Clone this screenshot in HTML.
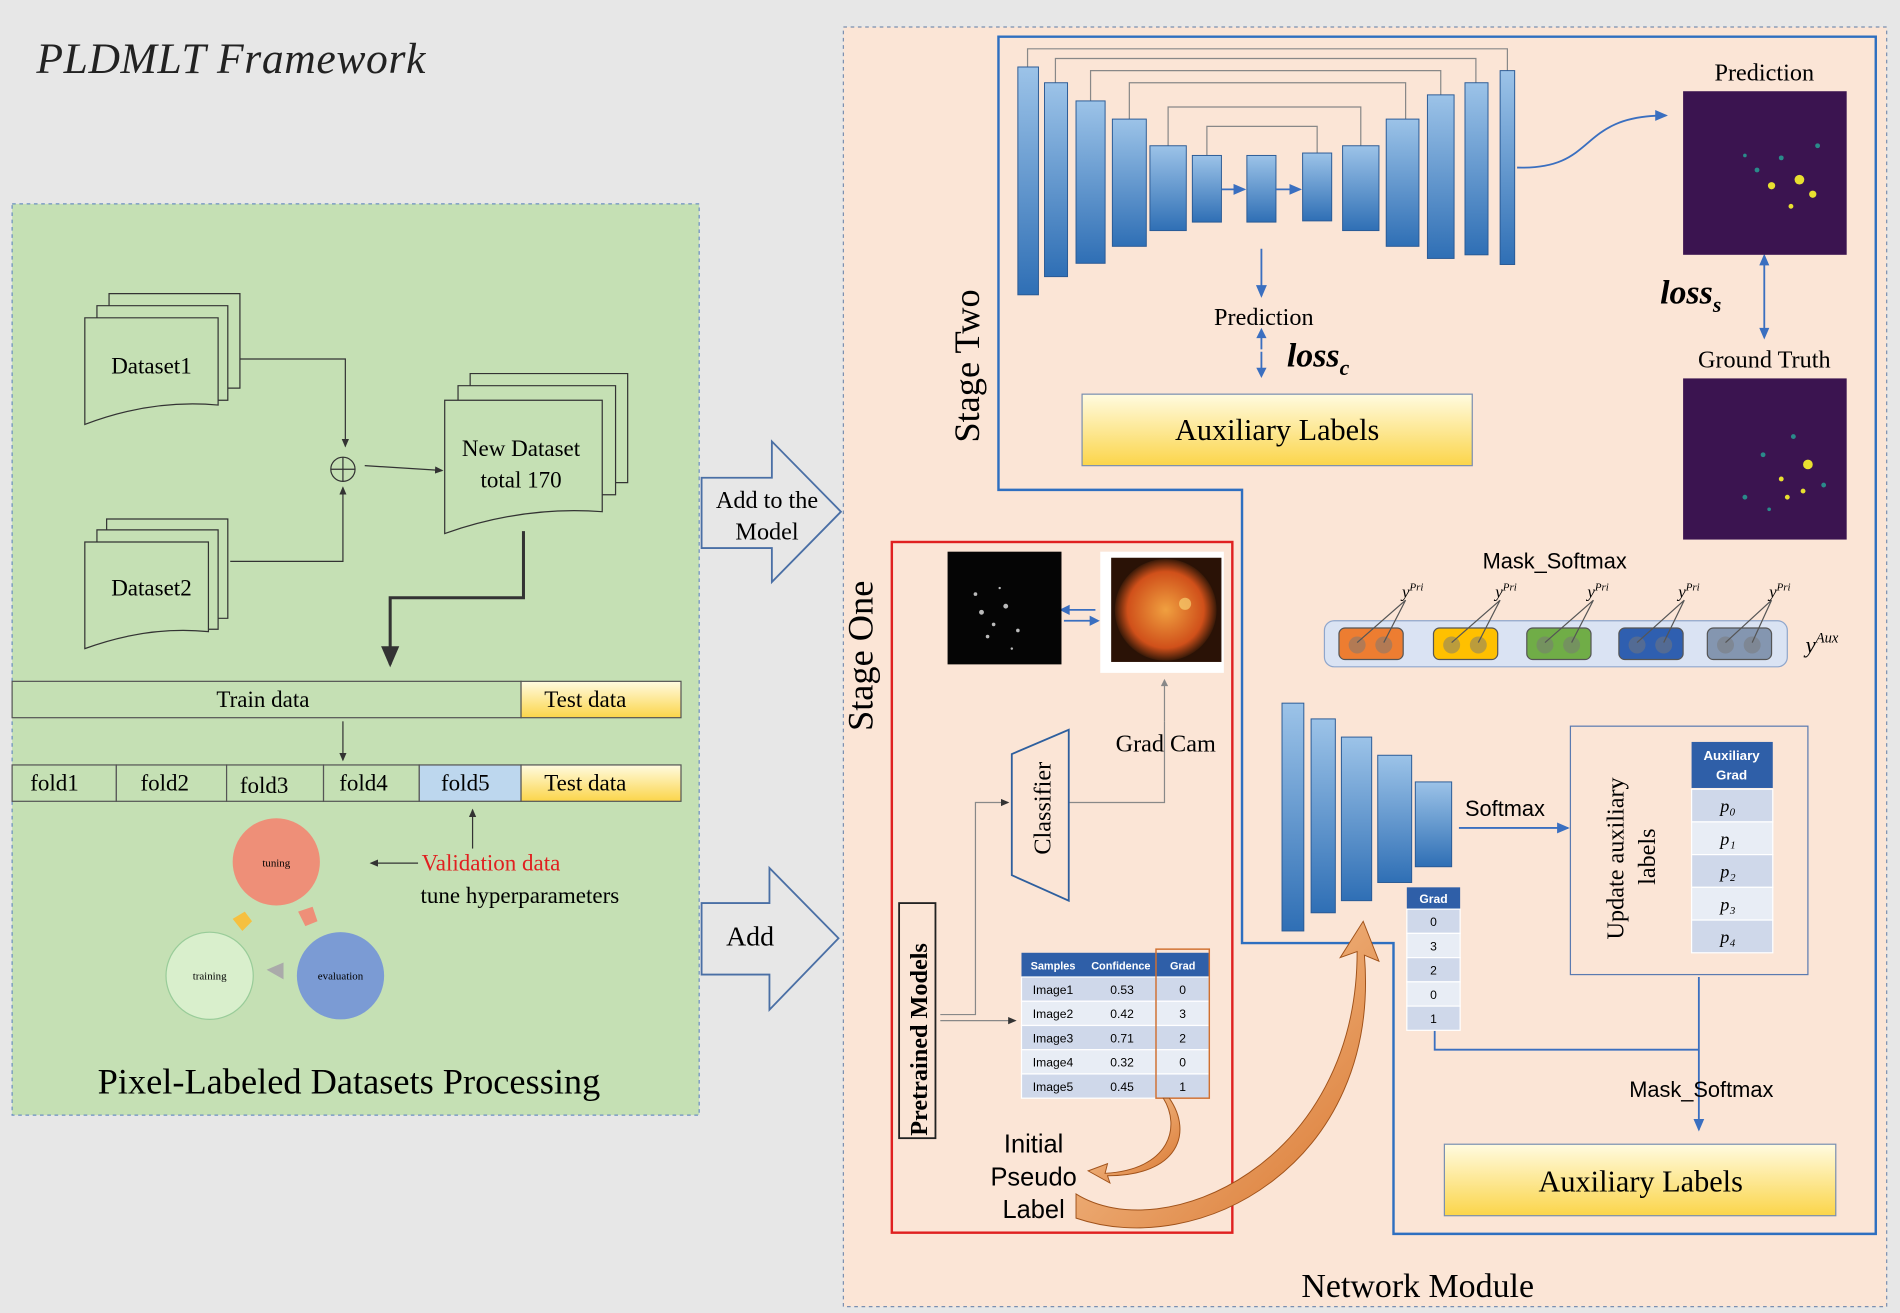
<!DOCTYPE html>
<html><head><meta charset="utf-8"><style>
html,body{margin:0;padding:0;background:#e7e7e7;}
svg{display:block}
.s{font-family:"Liberation Serif",serif}
.a{font-family:"Liberation Sans",sans-serif}
</style></head><body>
<svg width="1900" height="1313" viewBox="0 0 1568 1083" xmlns="http://www.w3.org/2000/svg">
<defs>
<linearGradient id="bl" x1="0" y1="0" x2="0" y2="1"><stop offset="0" stop-color="#9cc3e8"/><stop offset="1" stop-color="#2f6fb5"/></linearGradient>
<linearGradient id="yl" x1="0" y1="0" x2="0" y2="1"><stop offset="0" stop-color="#fffbe0"/><stop offset="1" stop-color="#fbd54a"/></linearGradient>
<radialGradient id="fund"><stop offset="0" stop-color="#f0a040"/><stop offset=".75" stop-color="#d0501a"/><stop offset="1" stop-color="#3a1a08"/></radialGradient>
<linearGradient id="or" x1="0" y1="0" x2="1" y2="1"><stop offset="0" stop-color="#fbd3a8"/><stop offset="1" stop-color="#d8742c"/></linearGradient>
<marker id="ar" markerWidth="8" markerHeight="8" refX="6" refY="3" orient="auto"><path d="M0,0 L7,3 L0,6z" fill="#333"/></marker>
<marker id="ab" markerWidth="8" markerHeight="8" refX="6" refY="3" orient="auto"><path d="M0,0 L7,3 L0,6z" fill="#3a6fc0"/></marker>
</defs>
<rect x="0" y="0" width="1568" height="1083" fill="#e7e7e7"/>
<text x="30" y="60" class="s" font-size="36" font-style="italic" fill="#222" letter-spacing="0.5">PLDMLT Framework</text>

<rect x="10" y="168" width="567" height="752" fill="#c5e0b4" stroke="#6a8fc0" stroke-dasharray="3,3"/>
<g fill="#c5e0b4" stroke="#333" stroke-width="1">
<path d="M90,242h108v78h-108z"/><path d="M80,252h108v78h-108z"/>
<path d="M70,262h110v72q-55,-5 -110,16z"/>
<path d="M88,428h100v82h-100z"/><path d="M80,437h100v82h-100z"/>
<path d="M70,447h102v74q-50,-5 -102,14z"/>
<path d="M388,308h130v90h-130z"/><path d="M378,318h130v90h-130z"/>
<path d="M367,330h130v92q-65,-5 -130,18z"/>
</g>
<text x="125" y="308" class="s" font-size="19" text-anchor="middle">Dataset1</text>
<text x="125" y="491" class="s" font-size="19" text-anchor="middle">Dataset2</text>
<text x="430" y="376" class="s" font-size="19" text-anchor="middle">New Dataset</text>
<text x="430" y="402" class="s" font-size="19" text-anchor="middle">total 170</text>
<g stroke="#333" fill="none">
<path d="M198,296H285V368" marker-end="url(#ar)"/>
<path d="M190,463H283V402" marker-end="url(#ar)"/>
<path d="M301,384L365,388" marker-end="url(#ar)"/>
<circle cx="283" cy="387" r="10"/><path d="M273,387h20M283,377v20"/>
<path d="M432,438V493H322V548" stroke-width="2.5" marker-end="url(#ar)"/>
<path d="M283,595V627" marker-end="url(#ar)"/>
<path d="M390,700V668" marker-end="url(#ar)"/>
<path d="M345,712H306" marker-end="url(#ar)"/>
</g>
<rect x="10" y="562" width="420" height="30" fill="#c5e0b4" stroke="#555"/>
<rect x="430" y="562" width="132" height="30" fill="url(#yl)" stroke="#555"/>
<text x="217" y="583" class="s" font-size="19" text-anchor="middle">Train data</text>
<text x="483" y="583" class="s" font-size="19" text-anchor="middle">Test data</text>
<g stroke="#555" fill="#c5e0b4">
<rect x="10" y="631" width="86" height="30"/><rect x="96" y="631" width="91" height="30"/>
<rect x="187" y="631" width="80" height="30"/><rect x="267" y="631" width="79" height="30"/>
<rect x="346" y="631" width="84" height="30" fill="#bdd7ee"/><rect x="430" y="631" width="132" height="30" fill="url(#yl)"/>
</g>
<g class="s" font-size="19" text-anchor="middle">
<text x="45" y="652">fold1</text><text x="136" y="652">fold2</text><text x="218" y="654">fold3</text><text x="300" y="652">fold4</text><text x="384" y="652">fold5</text><text x="483" y="652">Test data</text>
</g>
<text x="348" y="718" class="s" font-size="19" fill="#e02020">Validation data</text>
<text x="347" y="745" class="s" font-size="19">tune hyperparameters</text>
<circle cx="228" cy="711" r="36" fill="#ee8f78"/>
<circle cx="173" cy="805" r="36" fill="#d9efcc" stroke="#9c9" />
<circle cx="281" cy="805" r="36" fill="#7b9bd4"/>
<text x="228" y="715" class="s" font-size="9" text-anchor="middle">tuning</text>
<text x="173" y="808" class="s" font-size="9" text-anchor="middle">training</text>
<text x="281" y="808" class="s" font-size="9" text-anchor="middle">evaluation</text>
<path d="M192,758l10,-6l6,8l-8,8z" fill="#f6c040"/><path d="M246,752l12,-4l4,12l-10,4z" fill="#ee8f78"/><path d="M220,800l14,-6v14z" fill="#aaa"/>
<text x="288" y="902" class="s" font-size="30" text-anchor="middle">Pixel-Labeled Datasets Processing</text>

<path d="M579,394H637V364L694,422L637,480V452H579Z" fill="#e7e7e7" stroke="#4a6fa5" stroke-width="1.5"/>
<text x="633" y="419" class="s" font-size="20" text-anchor="middle">Add to the</text>
<text x="633" y="445" class="s" font-size="20" text-anchor="middle">Model</text>
<path d="M579,745H635V716L692,774L635,833V804H579Z" fill="#e7e7e7" stroke="#4a6fa5" stroke-width="1.5"/>
<text x="619" y="780" class="s" font-size="23" text-anchor="middle">Add</text>

<rect x="696" y="22" width="861" height="1056" fill="#fbe5d6" stroke="#7a8fb0" stroke-dasharray="3,3"/>
<path d="M824,30H1548V1018H1150V778H1025V404H824Z" fill="none" stroke="#2e6fc0" stroke-width="2"/>
<rect x="736" y="447" width="281" height="570" fill="none" stroke="#e02020" stroke-width="2"/>
<text transform="translate(808,365) rotate(-90)" class="s" font-size="30">Stage Two</text>
<text transform="translate(720,603) rotate(-90)" class="s" font-size="30">Stage One</text>
<text x="1170" y="1070" class="s" font-size="28" text-anchor="middle">Network Module</text>

<g stroke="#888" fill="none" stroke-width="1">
<path d="M848,55V40H1244V58"/><path d="M871,68V48H1218V68"/><path d="M900,83V58H1189V78"/><path d="M932,98V68H1160V98"/><path d="M964,120V88H1123V120"/><path d="M996,128V104H1087V126"/>
</g>
<g fill="url(#bl)" stroke="#2a5a95" stroke-width=".8">
<rect x="840" y="55" width="17" height="188"/><rect x="862" y="68" width="19" height="160"/><rect x="888" y="83" width="24" height="134"/>
<rect x="918" y="98" width="28" height="105"/><rect x="949" y="120" width="30" height="70"/><rect x="984" y="128" width="24" height="55"/>
<rect x="1029" y="128" width="24" height="55"/><rect x="1075" y="126" width="24" height="56"/><rect x="1108" y="120" width="30" height="70"/>
<rect x="1144" y="98" width="27" height="105"/><rect x="1178" y="78" width="22" height="135"/><rect x="1209" y="68" width="19" height="142"/>
<rect x="1238" y="58" width="12" height="160"/>
<rect x="1058" y="580" width="18" height="188"/><rect x="1082" y="593" width="20" height="160"/><rect x="1107" y="608" width="25" height="135"/>
<rect x="1137" y="623" width="28" height="105"/><rect x="1168" y="645" width="30" height="70"/>
</g>
<g stroke="#3a6fc0" fill="none" stroke-width="1.5">
<path d="M1008,156H1027" marker-end="url(#ab)"/><path d="M1053,156H1073" marker-end="url(#ab)"/>
<path d="M1252,138C1320,140 1300,95 1375,95" marker-end="url(#ab)"/>
<path d="M1041,205V244" marker-end="url(#ab)"/>
<path d="M1041,288V276M1041,290V308"/><path d="M1041,272l-3,6h6z" fill="#3a6fc0"/><path d="M1041,310l-3,-6h6z" fill="#3a6fc0"/>
<path d="M1456,214V276"/><path d="M1456,211l-3,7h6z" fill="#3a6fc0"/><path d="M1456,278l-3,-7h6z" fill="#3a6fc0"/>
<path d="M1204,683H1294" marker-end="url(#ab)"/>
<path d="M1402,806V932" marker-end="url(#ab)"/>
<path d="M1184,850V866H1402"/>
<path d="M876,503h28M906,512h-28" /><path d="M876,503l6,-3v6z" fill="#3a6fc0"/><path d="M906,512l-6,-3v6z" fill="#3a6fc0"/>
</g>
<text x="1043" y="268" class="s" font-size="20" text-anchor="middle">Prediction</text>
<text x="1062" y="302" class="s" font-size="28" font-weight="bold" font-style="italic">loss<tspan font-size="18" dy="7">c</tspan></text>
<text x="1370" y="250" class="s" font-size="28" font-weight="bold" font-style="italic">loss<tspan font-size="18" dy="7">s</tspan></text>
<rect x="893" y="325" width="322" height="59" fill="url(#yl)" stroke="#7a8fb0"/>
<text x="1054" y="363" class="s" font-size="25" text-anchor="middle">Auxiliary Labels</text>
<rect x="1192" y="944" width="323" height="59" fill="url(#yl)" stroke="#7a8fb0"/>
<text x="1354" y="983" class="s" font-size="25" text-anchor="middle">Auxiliary Labels</text>
<text x="1456" y="66" class="s" font-size="20" text-anchor="middle">Prediction</text>
<text x="1456" y="303" class="s" font-size="20" text-anchor="middle">Ground Truth</text>
<rect x="1389" y="75" width="135" height="135" fill="#3b1450"/>
<rect x="1389" y="312" width="135" height="133" fill="#3b1450"/>
<g fill="#e8e030"><circle cx="1485" cy="148" r="4"/><circle cx="1462" cy="153" r="3"/><circle cx="1496" cy="160" r="3"/><circle cx="1478" cy="170" r="2"/><circle cx="1492" cy="383" r="4"/><circle cx="1470" cy="395" r="2"/><circle cx="1488" cy="405" r="2"/><circle cx="1475" cy="410" r="2"/></g>
<g fill="#2a8a8a"><circle cx="1450" cy="140" r="2"/><circle cx="1470" cy="130" r="2"/><circle cx="1500" cy="120" r="2"/><circle cx="1440" cy="128" r="1.5"/><circle cx="1455" cy="375" r="2"/><circle cx="1480" cy="360" r="2"/><circle cx="1505" cy="400" r="2"/><circle cx="1440" cy="410" r="2"/><circle cx="1460" cy="420" r="1.5"/></g>

<text x="1283" y="469" class="a" font-size="18" text-anchor="middle">Mask_Softmax</text>
<rect x="1093" y="512" width="382" height="38" rx="8" fill="#dae3f3" stroke="#8fa6cc"/>
<g stroke="#555">
<rect x="1105" y="518" width="53" height="26" rx="5" fill="#ed7d31"/><rect x="1183" y="518" width="53" height="26" rx="5" fill="#ffc000"/>
<rect x="1260" y="518" width="53" height="26" rx="5" fill="#70ad47"/><rect x="1336" y="518" width="53" height="26" rx="5" fill="#2f5fb0"/>
<rect x="1409" y="518" width="53" height="26" rx="5" fill="#8496b0"/>
</g>
<g fill-opacity=".5" fill="#777"><circle cx="1120" cy="532" r="7"/><circle cx="1142" cy="532" r="7"/><circle cx="1198" cy="532" r="7"/><circle cx="1220" cy="532" r="7"/><circle cx="1275" cy="532" r="7"/><circle cx="1297" cy="532" r="7"/><circle cx="1351" cy="532" r="7"/><circle cx="1373" cy="532" r="7"/><circle cx="1424" cy="532" r="7"/><circle cx="1446" cy="532" r="7"/></g>
<g stroke="#555"><path d="M1120,530L1160,495M1142,530L1160,495M1198,530L1238,495M1220,530L1238,495M1275,530L1315,495M1297,530L1315,495M1351,530L1390,495M1373,530L1390,495M1424,530L1462,495M1446,530L1462,495"/></g>
<g class="s" font-size="14" font-style="italic"><text x="1157" y="493">y<tspan font-size="9" dy="-6">Pri</tspan></text><text x="1234" y="493">y<tspan font-size="9" dy="-6">Pri</tspan></text><text x="1310" y="493">y<tspan font-size="9" dy="-6">Pri</tspan></text><text x="1385" y="493">y<tspan font-size="9" dy="-6">Pri</tspan></text><text x="1460" y="493">y<tspan font-size="9" dy="-6">Pri</tspan></text>
<text x="1490" y="538" font-size="19">y<tspan font-size="12" dy="-8">Aux</tspan></text></g>

<text x="1242" y="673" class="a" font-size="18" text-anchor="middle">Softmax</text>
<rect x="1296" y="599" width="196" height="205" fill="none" stroke="#5a7ab0"/>
<text transform="translate(1340,775) rotate(-90)" class="s" font-size="20">Update auxiliary</text>
<text transform="translate(1366,730) rotate(-90)" class="s" font-size="20">labels</text>
<rect x="1396" y="612" width="67" height="38" fill="#2f5fa8"/>
<text x="1429" y="627" class="a" font-size="11" fill="#fff" font-weight="bold" text-anchor="middle">Auxiliary</text>
<text x="1429" y="643" class="a" font-size="11" fill="#fff" font-weight="bold" text-anchor="middle">Grad</text>
<g stroke="#fff"><rect x="1396" y="651" width="67" height="27" fill="#cfd8ea"/><rect x="1396" y="678" width="67" height="27" fill="#e8edf5"/><rect x="1396" y="705" width="67" height="27" fill="#cfd8ea"/><rect x="1396" y="732" width="67" height="27" fill="#e8edf5"/><rect x="1396" y="759" width="67" height="27" fill="#cfd8ea"/></g>
<g class="s" font-size="15" font-style="italic" text-anchor="middle"><text x="1426" y="670">p₀</text><text x="1426" y="697">p₁</text><text x="1426" y="724">p₂</text><text x="1426" y="751">p₃</text><text x="1426" y="778">p₄</text></g>
<text x="1404" y="905" class="a" font-size="18" text-anchor="middle">Mask_Softmax</text>

<rect x="1161" y="732" width="44" height="18" fill="#2f5fa8"/>
<text x="1183" y="745" class="a" font-size="10" fill="#fff" font-weight="bold" text-anchor="middle">Grad</text>
<g stroke="#fff"><rect x="1161" y="750" width="44" height="20" fill="#cfd8ea"/><rect x="1161" y="770" width="44" height="20" fill="#e8edf5"/><rect x="1161" y="790" width="44" height="20" fill="#cfd8ea"/><rect x="1161" y="810" width="44" height="20" fill="#e8edf5"/><rect x="1161" y="830" width="44" height="20" fill="#cfd8ea"/></g>
<g class="a" font-size="10" text-anchor="middle"><text x="1183" y="764">0</text><text x="1183" y="784">3</text><text x="1183" y="804">2</text><text x="1183" y="824">0</text><text x="1183" y="844">1</text></g>

<rect x="782" y="455" width="94" height="93" fill="#050505"/>
<g fill="#bbb"><circle cx="810" cy="505" r="2"/><circle cx="820" cy="515" r="1.5"/><circle cx="830" cy="500" r="2"/><circle cx="815" cy="525" r="1.5"/><circle cx="840" cy="520" r="1.5"/><circle cx="805" cy="490" r="1.5"/><circle cx="825" cy="485" r="1"/><circle cx="835" cy="535" r="1"/></g>
<rect x="908" y="455" width="102" height="100" fill="#fff"/>
<rect x="917" y="460" width="91" height="86" fill="#2a1206"/>
<circle cx="962" cy="503" r="42" fill="url(#fund)"/>
<circle cx="978" cy="498" r="5" fill="#f8d070" opacity=".7"/>
<path d="M961,562V595" stroke="#888" fill="none"/><path d="M961,560l-3,6h6z" fill="#888"/>
<path d="M868,662H961V595" stroke="#888" fill="none"/>
<text x="962" y="620" class="s" font-size="20" text-anchor="middle">Grad Cam</text>
<path d="M835,622L882,602V743L835,722Z" fill="#fbe5d6" stroke="#2e5f9e" stroke-width="1.5"/>
<text transform="translate(867,705) rotate(-90)" class="s" font-size="20">Classifier</text>
<rect x="742" y="745" width="30" height="194" fill="#fbe5d6" stroke="#222" stroke-width="1.5"/>
<text transform="translate(765,937) rotate(-90)" class="s" font-size="20" font-weight="bold">Pretrained Models</text>
<g stroke="#888" fill="none"><path d="M776,837H805V662H832" marker-end="url(#ar)"/><path d="M776,842H838" marker-end="url(#ar)"/></g>
<rect x="843" y="786" width="155" height="20" fill="#2f5fa8"/>
<g class="a" font-size="9" fill="#fff" font-weight="bold" text-anchor="middle"><text x="869" y="800">Samples</text><text x="925" y="800">Confidence</text><text x="976" y="800">Grad</text></g>
<g stroke="#fff"><rect x="843" y="806" width="155" height="20" fill="#cfd8ea"/><rect x="843" y="826" width="155" height="20" fill="#e8edf5"/><rect x="843" y="846" width="155" height="20" fill="#cfd8ea"/><rect x="843" y="866" width="155" height="20" fill="#e8edf5"/><rect x="843" y="886" width="155" height="20" fill="#cfd8ea"/></g>
<rect x="954" y="783" width="44" height="123" fill="none" stroke="#d07030" stroke-width="1.2"/>
<g class="a" font-size="10" text-anchor="middle">
<text x="869" y="820">Image1</text><text x="926" y="820">0.53</text><text x="976" y="820">0</text>
<text x="869" y="840">Image2</text><text x="926" y="840">0.42</text><text x="976" y="840">3</text>
<text x="869" y="860">Image3</text><text x="926" y="860">0.71</text><text x="976" y="860">2</text>
<text x="869" y="880">Image4</text><text x="926" y="880">0.32</text><text x="976" y="880">0</text>
<text x="869" y="900">Image5</text><text x="926" y="900">0.45</text><text x="976" y="900">1</text></g>
<g class="a" font-size="21" text-anchor="middle"><text x="853" y="951">Initial</text><text x="853" y="978">Pseudo</text><text x="853" y="1005">Label</text></g>
<path d="M960,906C975,930 965,965 912,968L914,960L898,966L916,976L914,970C972,970 985,935 965,906Z" fill="url(#or)" stroke="#a0521a" stroke-width=".8"/>
<path d="M888,985C960,1030 1120,960 1120,785L1106,790L1125,760L1138,793L1126,788C1140,960 990,1040 888,1005Z" fill="url(#or)" stroke="#a0521a" stroke-width=".8"/>
</svg>
</body></html>
